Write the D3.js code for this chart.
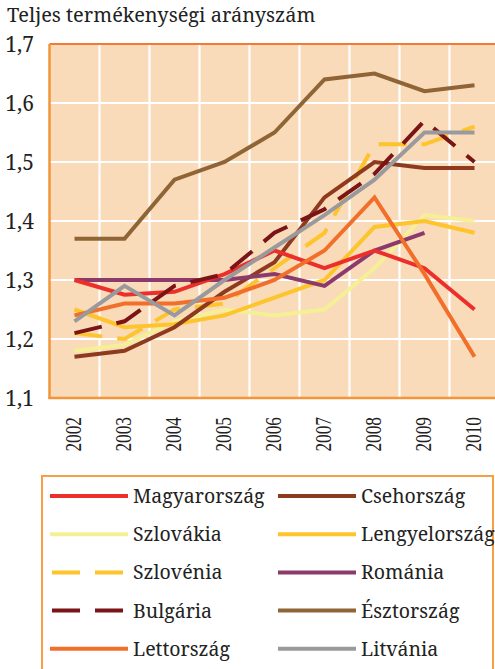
<!DOCTYPE html>
<html><head><meta charset="utf-8">
<script src="https://cdn.jsdelivr.net/npm/d3@7"></script>
<style>
html,body{margin:0;padding:0;background:#fff;}
svg{display:block;}
</style></head>
<body>
<script>
const years = ["2002","2003","2004","2005","2006","2007","2008","2009","2010"];
const yTicks = [1.1,1.2,1.3,1.4,1.5,1.6,1.7];
const titleText = "Teljes termékenységi arányszám";

const magyarorszag = [1.30,1.275,1.28,1.31,1.35,1.32,1.35,1.32,1.25];
const csehorszag   = [1.17,1.18,1.22,1.28,1.33,1.44,1.50,1.49,1.49];
const szlovakia    = [1.18,1.19,1.23,1.25,1.24,1.25,1.32,1.41,1.40];
const lengyelorszag= [1.25,1.22,1.225,1.24,1.27,1.30,1.39,1.40,1.38];
const szlovenia    = [1.21,1.20,1.25,1.26,1.32,1.38,1.53,1.53,1.56];
const romania      = [1.30,1.30,1.30,1.30,1.31,1.29,1.35,1.38,null];
const bulgaria     = [1.21,1.23,1.29,1.31,1.38,1.42,1.48,1.57,1.50];
const esztorszag   = [1.37,1.37,1.47,1.50,1.55,1.64,1.65,1.62,1.63];
const lettorszag   = [1.24,1.26,1.26,1.27,1.30,1.35,1.44,1.31,1.17];
const litvania     = [1.23,1.29,1.24,1.30,1.355,1.41,1.47,1.55,1.55];

const seriesNames = ["Magyarország","Csehország","Szlovákia","Lengyelország","Szlovénia","Románia","Bulgária","Észtország","Lettország","Litvánia"];
const seriesValues = [magyarorszag,csehorszag,szlovakia,lengyelorszag,szlovenia,romania,bulgaria,esztorszag,lettorszag,litvania];
const seriesColors = ["#ec2f2a","#8e3a1f","#f5f096","#fdc42c","#fdc42c","#8c3a6c","#7b1416","#8f6536","#f26f2b","#9a9a9c"];
const seriesDashed = [false,false,false,false,true,false,true,false,false,false];
const drawOrder = [2,3,4,1,5,0,8,6,7,9];

const W = 495, H = 669;
const plotL = 49.5, plotR = 499.5, plotT = 44, plotB = 398;
const SERIF = '"Noto Serif","Liberation Serif",serif';
const TIMES = '"Liberation Serif",serif';

const svg = d3.select("body").append("svg").attr("width",W).attr("height",H);

const x = d3.scaleBand().domain(years).range([plotL,plotR]).padding(0);
const y = d3.scaleLinear().domain([1.1,1.7]).range([plotB,plotT]);

// title
svg.append("text").attr("x",7).attr("y",22)
  .style("font-family",SERIF).style("font-size","20px").style("fill","#222").text(titleText);

// plot background
svg.append("rect").attr("x",plotL).attr("y",plotT).attr("width",plotR-plotL).attr("height",plotB-plotT).attr("fill","#f9dab9");

// grid
const grid = svg.append("g").attr("stroke","#fff").attr("stroke-width",2.2);
grid.selectAll("line.h").data(yTicks.slice(1,-1)).enter().append("line")
  .attr("x1",plotL).attr("x2",plotR).attr("y1",d=>y(d)).attr("y2",d=>y(d));
grid.selectAll("line.v").data(years.slice(1)).enter().append("line")
  .attr("x1",d=>x(d)).attr("x2",d=>x(d)).attr("y1",plotT).attr("y2",plotB);

// borders
svg.append("line").attr("x1",plotL).attr("x2",W).attr("y1",plotT).attr("y2",plotT).attr("stroke","#f37a32").attr("stroke-width",2);
svg.append("line").attr("x1",plotL).attr("x2",plotL).attr("y1",plotT).attr("y2",plotB+1).attr("stroke","#f3953a").attr("stroke-width",2.5);
svg.append("line").attr("x1",plotL-1).attr("x2",W).attr("y1",plotB).attr("y2",plotB).attr("stroke","#f3953a").attr("stroke-width",2.5);

// y axis labels
const yAxis = d3.axisLeft(y).tickValues(yTicks).tickSize(0).tickFormat(d=>d3.format(".1f")(d).replace(".",","));
const ya = svg.append("g").attr("transform","translate(34,0)").call(yAxis);
ya.select(".domain").remove();
ya.selectAll("text").attr("x",0).attr("dy","0.36em")
  .style("font-family",SERIF).style("font-size","21px").style("fill","#222");

// x axis labels
const xl = svg.append("g");
xl.selectAll("text").data(years).enter().append("text")
  .attr("transform",d=>`translate(${x(d)+x.bandwidth()/2+6},417) rotate(-90) scale(0.72,1)`)
  .attr("text-anchor","end")
  .style("font-family",TIMES).style("font-size","24px").style("fill","#222").text(d=>d);

// lines
const line = d3.line().defined(d=>d.v!=null).x(d=>x(d.year)+x.bandwidth()/2).y(d=>y(d.v));
const lines = svg.append("g").attr("fill","none").attr("stroke-width",4);
drawOrder.forEach(i=>{
  const pts = years.map((yr,j)=>({year:yr,v:seriesValues[i][j]}));
  lines.append("path").datum(pts).attr("d",line)
    .attr("stroke",seriesColors[i])
    .attr("stroke-dasharray",seriesDashed[i]?"28,15":null)
    .attr("stroke-linejoin","miter");
});

// legend
const leg = svg.append("g");
leg.append("rect").attr("x",42).attr("y",476).attr("width",451).attr("height",220).attr("fill","none").attr("stroke","#f6a043").attr("stroke-width",2);
seriesNames.forEach((name,i)=>{
  const col = i%2, row = Math.floor(i/2);
  const cy = 496 + row*38.2;
  const sx = col===0 ? 50 : 278;
  const g = leg.append("g");
  if(seriesDashed[i]){
    g.append("line").attr("x1",sx+2).attr("x2",sx+75).attr("y1",cy).attr("y2",cy)
      .attr("stroke",seriesColors[i]).attr("stroke-width",4).attr("stroke-dasharray","28,15");
  } else {
    g.append("line").attr("x1",sx).attr("x2",sx+78).attr("y1",cy).attr("y2",cy)
      .attr("stroke",seriesColors[i]).attr("stroke-width",4);
  }
  g.append("text").attr("x",sx+83).attr("y",cy+7)
    .style("font-family",SERIF).style("font-size","19.5px").style("fill","#222").text(name);
});
</script>
</body></html>
